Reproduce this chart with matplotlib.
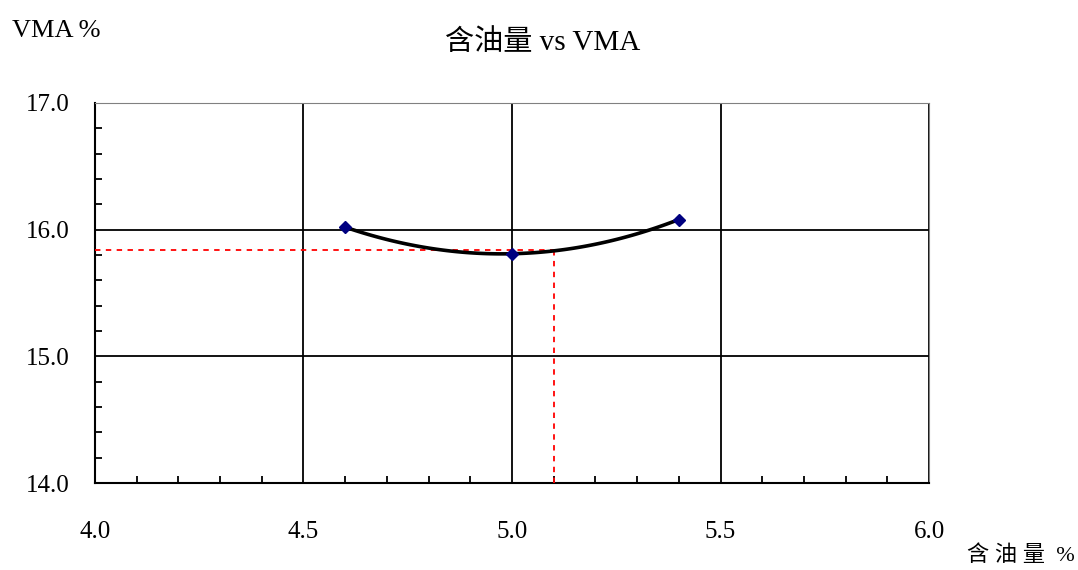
import matplotlib.pyplot as plt
from matplotlib.ticker import MultipleLocator
import numpy as np

# asphalt content (%) vs VMA (%)
oil_content = [4.6, 5.0, 5.4]
vma = [16.02, 15.81, 16.08]

# optimum asphalt content and VMA read at it
opt_oil = 5.1
opt_vma = 15.84

plt.rcParams['font.family'] = ['Liberation Serif', 'Noto Sans CJK SC']

fig = plt.figure(figsize=(10.78, 5.70), dpi=100)
ax = fig.add_axes([0.0881, 0.1526, 0.7737, 0.6667])

# quadratic trend line through the test points
coef = np.polyfit(oil_content, vma, 2)
xs = np.linspace(min(oil_content), max(oil_content), 100)
ax.plot(xs, np.polyval(coef, xs), color="black", lw=2.6, zorder=4)
ax.plot(oil_content, vma, linestyle="none", marker="D", markersize=6,
        color="#000080", zorder=5)

# dashed guide lines to the optimum
ax.plot([4.0, opt_oil], [opt_vma, opt_vma], color="red", lw=1.3,
        linestyle=(0, (3, 3)), zorder=3)
ax.plot([opt_oil, opt_oil], [14.0, opt_vma], color="red", lw=1.3,
        linestyle=(0, (3, 3)), zorder=3)

ax.set_xlim(4.0, 6.0)
ax.set_ylim(14.0, 17.0)
ax.xaxis.set_major_locator(MultipleLocator(0.5))
ax.xaxis.set_minor_locator(MultipleLocator(0.1))
ax.yaxis.set_major_locator(MultipleLocator(1.0))
ax.yaxis.set_minor_locator(MultipleLocator(0.2))
ax.xaxis.set_major_formatter(lambda v, p: f"{v:.1f}")
ax.yaxis.set_major_formatter(lambda v, p: f"{v:.1f}")

ax.grid(which="major", color="black", lw=1.3)
ax.tick_params(which="major", length=0, labelsize=18, colors="black")
ax.tick_params(axis="x", which="major", pad=27)
ax.tick_params(axis="y", which="major", pad=18)
ax.tick_params(which="minor", direction="in", length=5, width=1.3,
               color="black")

ax.spines['top'].set_color("#808080")
ax.spines['right'].set_color("#808080")
ax.spines['left'].set_linewidth(1.5)
ax.spines['bottom'].set_linewidth(1.5)

fig.text(0.503, 0.925, "含油量 vs VMA", ha="center", va="center", fontsize=21)
fig.text(0.011, 0.945, "VMA %", ha="left", va="center", fontsize=19)
fig.text(0.997, 0.025, "含 油 量  %", ha="right", va="center", fontsize=16)

plt.savefig("out.png")
